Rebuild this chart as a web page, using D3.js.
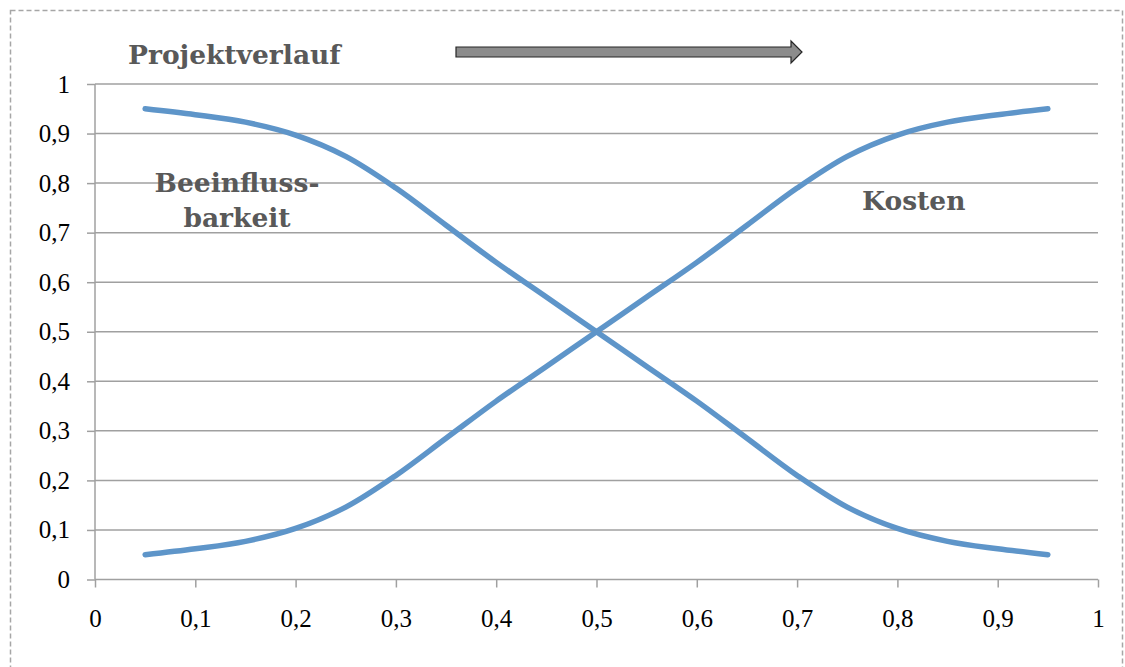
<!DOCTYPE html>
<html><head><meta charset="utf-8">
<script src="https://cdn.jsdelivr.net/npm/d3@7"></script>
<style>body{margin:0;background:#fff}svg{display:block}</style>
</head><body><svg id="c" width="1125" height="667"></svg>
<script>
const xValues = [0.05,0.1,0.15,0.2,0.25,0.3,0.35,0.4,0.45,0.5,0.55,0.6,0.65,0.7,0.75,0.8,0.85,0.9,0.95];
const kosten = [0.05,0.062,0.077,0.103,0.146,0.21,0.285,0.36,0.43,0.5,0.57,0.64,0.715,0.79,0.854,0.897,0.923,0.938,0.95];
const beeinflussbarkeit = [0.95,0.938,0.923,0.897,0.854,0.79,0.715,0.64,0.57,0.5,0.43,0.36,0.285,0.21,0.146,0.103,0.077,0.062,0.05];
const xTicks = [0,0.1,0.2,0.3,0.4,0.5,0.6,0.7,0.8,0.9,1];
const yTicks = [0,0.1,0.2,0.3,0.4,0.5,0.6,0.7,0.8,0.9,1];
const fmt = d => String(d).replace('.', ',');

const svg = d3.select('#c');
const m = {left:95, right:1098, top:84, bottom:579.5};
const x = d3.scaleLinear().domain([0,1]).range([m.left, m.right]);
const y = d3.scaleLinear().domain([0,1]).range([m.bottom, m.top]);

// dashed border
svg.append('rect').attr('x',10.5).attr('y',10.5).attr('width',1112).attr('height',670)
  .attr('fill','none').attr('stroke','#a6a6a6').attr('stroke-width',1.5).attr('stroke-dasharray','5,3');

// gridlines
svg.append('g').selectAll('line').data(yTicks.filter(d=>d>0)).join('line')
  .attr('x1',x(0)).attr('x2',x(1)).attr('y1',d=>y(d)).attr('y2',d=>y(d))
  .attr('stroke','#a0a0a0').attr('stroke-width',1.5);

const tickFont = 'Liberation Serif';
const yAxis = svg.append('g').attr('transform',`translate(${x(0)},0)`)
  .call(d3.axisLeft(y).tickValues(yTicks).tickFormat(fmt).tickSize(8).tickPadding(17));
const xAxis = svg.append('g').attr('transform',`translate(0,${y(0)})`)
  .call(d3.axisBottom(x).tickValues(xTicks).tickFormat(fmt).tickSize(8).tickPadding(22));
[yAxis,xAxis].forEach(a=>{
  a.selectAll('path.domain').attr('stroke','#a0a0a0').attr('stroke-width',1.5);
  a.selectAll('.tick line').attr('stroke','#a0a0a0').attr('stroke-width',1.5);
  a.selectAll('text').attr('font-family',tickFont).attr('font-size',25).attr('fill','#000');
});
xAxis.select('path.domain').attr('d',`M${x(0)},0H${x(1)}`);
yAxis.select('path.domain').attr('d',`M0,${y(1)}V${y(0)}`);

// lines
const line = d3.line().x((d,i)=>x(xValues[i])).y(d=>y(d)).curve(d3.curveCatmullRom.alpha(0.5));
[kosten, beeinflussbarkeit].forEach(s=>{
  svg.append('path').attr('d',line(s)).attr('fill','none').attr('stroke','#5e95c9')
    .attr('stroke-width',5.5).attr('stroke-linecap','round').attr('stroke-linejoin','round');
});

// labels
const lab = (t,xx,yy,anchor='start') => svg.append('text').text(t).attr('x',xx).attr('y',yy)
  .attr('text-anchor',anchor).attr('font-family','DejaVu Serif').attr('font-weight','bold')
  .attr('font-size',26.5).attr('fill','#595959');
lab('Projektverlauf',128,64);
lab('Beeinfluss-',237,192,'middle');
lab('barkeit',237,227,'middle');
lab('Kosten',862,210);

// arrow
const ax0=456, ax1=802, ay=52;
svg.append('path')
  .attr('d',`M${ax0},${ay-5}H${ax1-11}V${ay-11}L${ax1},${ay}L${ax1-11},${ay+11}V${ay+5}H${ax0}Z`)
  .attr('fill','#8c8c8c').attr('stroke','#262626').attr('stroke-width',1.2);
</script></body></html>
